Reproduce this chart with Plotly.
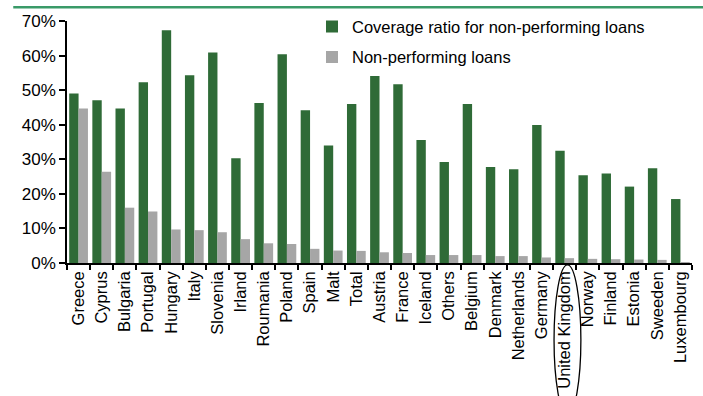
import plotly.graph_objects as go

countries = ["Greece", "Cyprus", "Bulgaria", "Portugal", "Hungary", "Italy", "Slovenia",
             "Irland", "Roumania", "Poland", "Spain", "Malt", "Total", "Austria", "France",
             "Iceland", "Others", "Belgium", "Denmark", "Netherlands", "Germany",
             "United Kingdom", "Norway", "Finland", "Estonia", "Sweeden", "Luxembourg"]
coverage = [49.0, 47.1, 44.7, 52.3, 67.3, 54.3, 60.9, 30.3, 46.3, 60.4, 44.2, 34.0, 46.0,
            54.1, 51.7, 35.6, 29.2, 46.0, 27.8, 27.1, 39.9, 32.5, 25.4, 25.9, 22.1, 27.4, 18.5]
npl = [44.7, 26.4, 16.0, 14.9, 9.7, 9.5, 8.9, 6.9, 5.7, 5.5, 4.1, 3.6, 3.5,
       3.1, 2.9, 2.3, 2.3, 2.3, 2.0, 2.0, 1.6, 1.4, 1.2, 1.1, 1.0, 0.9, 0.2]
series_names = ["Coverage ratio for non-performing loans", "Non-performing loans"]
y_ticks = [0, 10, 20, 30, 40, 50, 60, 70]
y_tick_labels = ["0%", "10%", "20%", "30%", "40%", "50%", "60%", "70%"]
highlight = "United Kingdom"

FONT = "Liberation Sans, Arial, sans-serif"

fig = go.Figure()
fig.add_trace(go.Bar(x=countries, y=coverage, name=series_names[0], legendgroup="a",
                     marker=dict(color="#2f6b37", line=dict(width=0))))
fig.add_trace(go.Bar(x=countries, y=npl, name=series_names[1], legendgroup="b",
                     marker=dict(color="#a6a6a6", line=dict(width=0))))

hi = countries.index(highlight)
fig.add_shape(type="circle", xref="x", yref="paper",
              x0=hi - 0.46, x1=hi + 0.70, y0=-0.627, y1=-0.008,
              line=dict(color="black", width=1.3), layer="above")
fig.add_shape(type="line", xref="paper", yref="paper",
              x0=-0.086, x1=1.02, y0=1.057, y1=1.057,
              line=dict(color="#3a9a68", width=2.5))

fig.update_layout(
    width=703, height=396,
    margin=dict(l=67, r=11, t=21, b=133, autoexpand=False),
    paper_bgcolor="white", plot_bgcolor="white",
    barmode="group", bargap=0.19, bargroupgap=0,
    font=dict(family=FONT, color="black", size=16),
    showlegend=True,
    legend=dict(x=0.392, y=1.048, xanchor="left", yanchor="top",
                bgcolor="rgba(0,0,0,0)", font=dict(size=16.5, family=FONT),
                traceorder="grouped", tracegroupgap=6),
    xaxis=dict(type="category", showline=True, linecolor="black", linewidth=1.5,
               ticks="outside", tickson="boundaries", ticklen=5, tickcolor="black",
               tickwidth=1.5, tickangle=-90, tickfont=dict(size=16.5, family=FONT),
               automargin=False, showgrid=False),
    yaxis=dict(range=[0, 70], tickvals=y_ticks, ticktext=y_tick_labels, showline=True,
               linecolor="black", linewidth=1.5, ticks="outside", ticklen=6,
               tickcolor="black", tickwidth=1.5, showgrid=False, zeroline=False,
               tickfont=dict(size=17, family=FONT), automargin=False),
)

fig.write_html("out.html")
